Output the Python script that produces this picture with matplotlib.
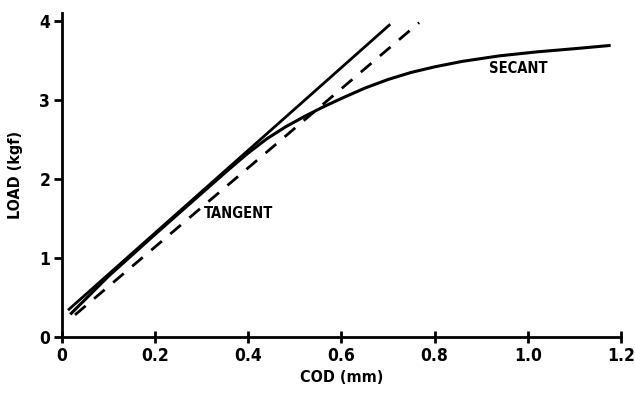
import matplotlib
matplotlib.use("Agg")
import matplotlib.pyplot as plt

# ---- data ----
tangent_x = [0.013, 0.705]
tangent_y = [0.34, 3.96]

dashed_x = [0.028, 0.767]
dashed_y = [0.28, 3.98]

curve_x = [0.02, 0.1, 0.2, 0.3, 0.36, 0.40, 0.44, 0.48, 0.52, 0.56, 0.60, 0.65, 0.70, 0.75, 0.80, 0.86, 0.94, 1.02, 1.10, 1.175]
curve_y = [0.30, 0.77, 1.30, 1.82, 2.13, 2.33, 2.51, 2.66, 2.79, 2.91, 3.02, 3.15, 3.26, 3.35, 3.42, 3.49, 3.56, 3.61, 3.65, 3.69]

xticks = [0, 0.2, 0.4, 0.6, 0.8, 1.0, 1.2]
xticklabels = ["0", "0.2", "0.4", "0.6", "0.8", "1.0", "1.2"]
yticks = [0, 1, 2, 3, 4]
yticklabels = ["0", "1", "2", "3", "4"]

plt.rcParams["font.family"] = ["DejaVu Sans"]
plt.rcParams["font.weight"] = "bold"
plt.rcParams["font.stretch"] = "condensed"

fig = plt.figure(figsize=(6.35, 3.93), dpi=100)
ax = fig.add_axes([0.0976, 0.1425, 0.880, 0.824])

ax.plot(tangent_x, tangent_y, color="black", lw=2.0, solid_capstyle="butt")
ax.plot(dashed_x, dashed_y, color="black", lw=2.0, dashes=(5, 4))
ax.plot(curve_x, curve_y, color="black", lw=2.2)

ax.text(0.379, 1.56, "TANGENT", ha="center", va="center", fontsize=10.5, fontweight="bold")
ax.text(0.98, 3.40, "SECANT", ha="center", va="center", fontsize=10.5, fontweight="bold")

ax.set_xlim(0, 1.2)
ax.set_ylim(0, 4.1)
ax.set_xticks(xticks)
ax.set_xticklabels(xticklabels)
ax.set_yticks(yticks)
ax.set_yticklabels(yticklabels)

for s in ["top", "right"]:
    ax.spines[s].set_visible(False)
for s in ["left", "bottom"]:
    ax.spines[s].set_linewidth(2.0)

ax.tick_params(axis="both", length=6, width=2, labelsize=12.5, direction="out", pad=2.5)
ax.tick_params(axis="x", direction="inout", length=8, pad=3)

ax.set_xlabel("COD (mm)", fontsize=11.5, fontweight="bold", labelpad=4)
ax.set_ylabel("LOAD (kgf)", fontsize=11.5, fontweight="bold", labelpad=12)

fig.savefig("out.png", dpi=100)
